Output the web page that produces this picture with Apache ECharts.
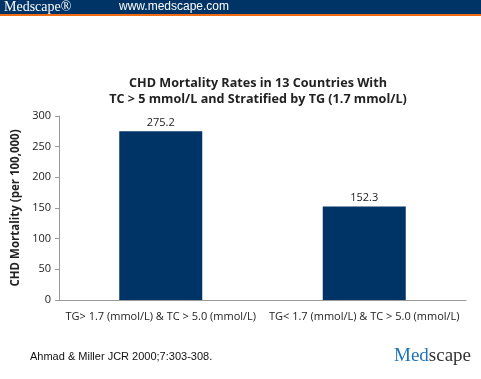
<!DOCTYPE html>
<html><head><meta charset="utf-8">
<script src="https://cdn.jsdelivr.net/npm/echarts@6/dist/echarts.min.js"></script>
<style>html,body{margin:0;padding:0;background:#fff}#c{width:481px;height:379px}</style>
</head><body><div id="c"></div>
<script>
var categories = ['TG> 1.7 (mmol/L) & TC > 5.0 (mmol/L)', 'TG< 1.7 (mmol/L) & TC > 5.0 (mmol/L)'];
var values = [275.2, 152.3];
var yTicks = [0, 50, 100, 150, 200, 250, 300];

var chart = echarts.init(document.getElementById('c'), null, {renderer: 'canvas'});
var font = '"Open Sans", "Noto Sans", sans-serif';
chart.setOption({
  animation: false,
  title: {
    text: 'CHD Mortality Rates in 13 Countries With\nTC > 5 mmol/L and Stratified by TG (1.7 mmol/L)',
    left: 253, top: 70, textAlign: 'center',
    textStyle: {fontFamily: font, fontWeight: 'bold', fontSize: 12.6, color: '#222', lineHeight: 16}
  },
  grid: {left: 59, right: 15, top: 116, bottom: 79, containLabel: false},
  xAxis: {
    type: 'category', data: categories,
    axisLine: {lineStyle: {color: '#999', width: 1}},
    axisTick: {show: false},
    axisLabel: {fontFamily: font, fontSize: 11, color: '#222', margin: 11, interval: 0}
  },
  yAxis: {
    type: 'value', min: yTicks[0], max: yTicks[yTicks.length - 1], interval: 50,
    name: 'CHD Mortality (per 100,000)', nameLocation: 'middle', nameGap: 33,
    nameTextStyle: {fontFamily: font, fontWeight: 'bold', fontSize: 11.5, color: '#222'},
    axisLine: {show: true, lineStyle: {color: '#999', width: 1}},
    axisTick: {show: true, inside: false, length: 4, lineStyle: {color: '#999'}},
    splitLine: {show: false},
    axisLabel: {fontFamily: font, fontSize: 11, color: '#222', margin: 8}
  },
  series: [{
    type: 'bar', data: values, barWidth: 83,
    itemStyle: {color: '#003366'},
    label: {show: true, position: 'top', distance: 3, fontFamily: font, fontSize: 11, color: '#222',
      formatter: function (p) { return p.value.toFixed(1); }}
  }],
  graphic: [
    {type: 'rect', shape: {x: 0, y: 0, width: 481, height: 14}, style: {fill: '#003366'}},
    {type: 'rect', shape: {x: 0, y: 14, width: 481, height: 2}, style: {fill: '#f26a10'}},
    {type: 'text', left: 4, top: 0, style: {text: 'Medscape®', fill: '#fff', font: '14px "Liberation Serif", serif'}},
    {type: 'text', left: 119, top: 1, style: {text: 'www.medscape.com', fill: '#fff', font: '12px "Liberation Sans", Arial, sans-serif'}},
    {type: 'text', left: 30, top: 351, style: {text: 'Ahmad & Miller JCR 2000;7:303-308.', fill: '#111', font: '11px "Liberation Sans", Arial, sans-serif'}},
    {type: 'text', left: 394, top: 347, style: {
      rich: {a: {fill: '#1e73b8', font: '19px "Liberation Serif", serif'}, b: {fill: '#333', font: '19px "Liberation Serif", serif'}},
      text: '{a|Med}{b|scape}'}}
  ]
});
</script></body></html>
